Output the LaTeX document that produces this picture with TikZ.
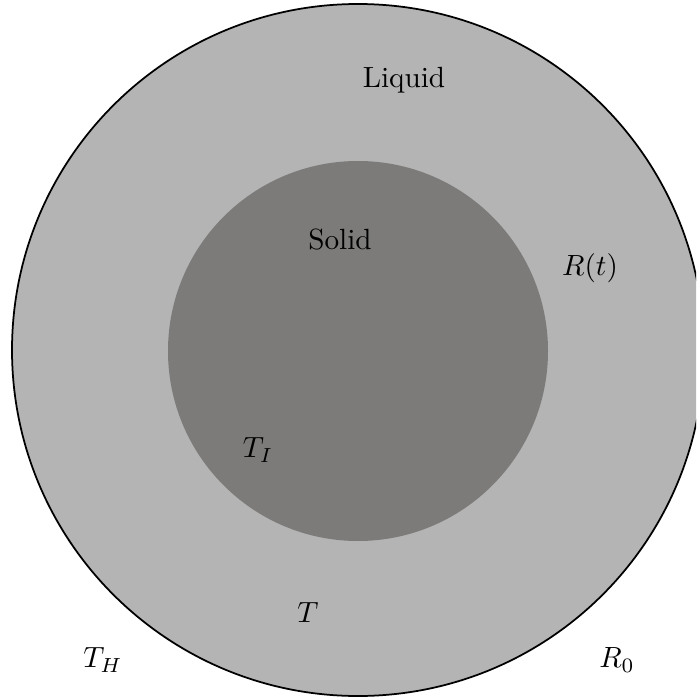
\documentclass[tikz,border=0pt]{standalone}
\usepackage{tikz}
\definecolor{liquidgray}{RGB}{180,180,180}
\definecolor{solidgray}{RGB}{124,123,121}

\begin{document}
\begin{tikzpicture}[x=0.342pt, y=-0.342pt]
  \useasboundingbox (0,0) rectangle (696,698);
  \clip (0,0) rectangle (696,698);

  % Liquid region (outer) and solid core
  \draw[fill=liquidgray, line width=0.6pt] (358,350) circle (346);
  \fill[solidgray] (358,351) circle (190);

  % Labels
  \node (liquid) at (404,80) {Liquid};
  \node (solid) at (340,240) {Solid};
  \node (radius) at (590,268) {$R(t)$};
  \node (tinterface) at (258,450) {$T_I$};
  \node (temp) at (308,613) {$T$};
  \node (thot) at (103,660) {$T_H$};
  \node (rzero) at (617,660) {$R_0$};
\end{tikzpicture}
\end{document}
